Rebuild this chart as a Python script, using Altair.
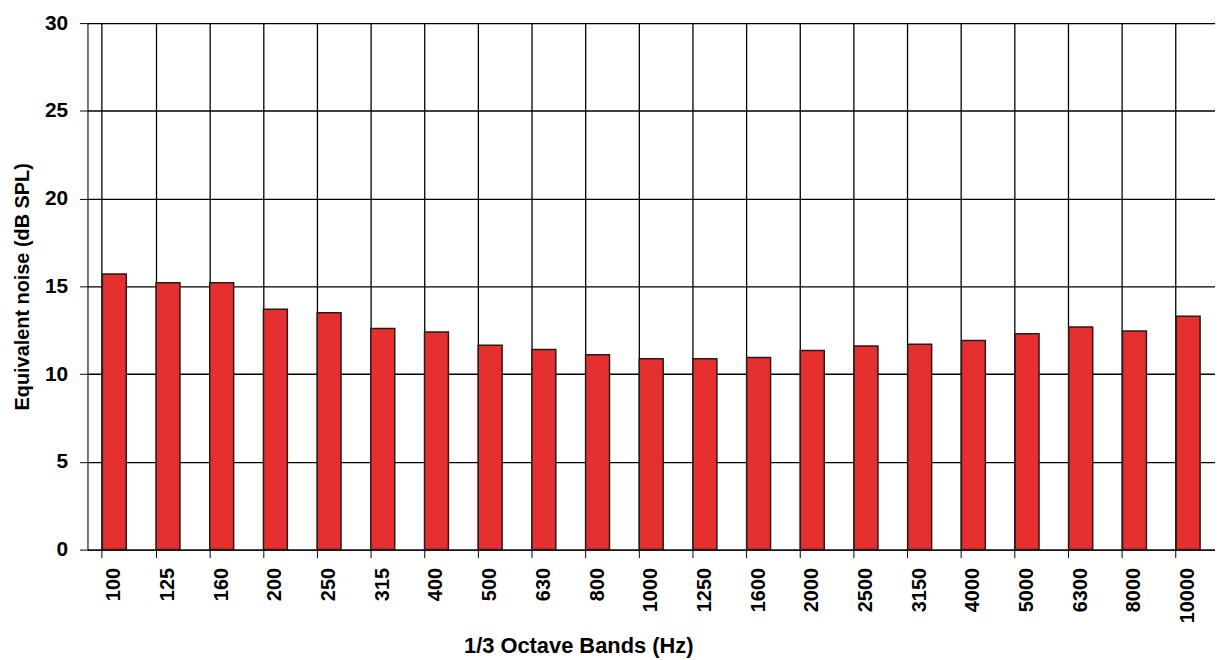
import altair as alt
import pandas as pd

bands = ["100", "125", "160", "200", "250", "315", "400", "500", "630", "800",
         "1000", "1250", "1600", "2000", "2500", "3150", "4000", "5000", "6300",
         "8000", "10000"]
noise = [15.7, 15.2, 15.2, 13.7, 13.5, 12.6, 12.4, 11.65, 11.4, 11.1,
         10.87, 10.87, 10.95, 11.35, 11.6, 11.7, 11.92, 12.3, 12.68, 12.45, 13.3]

df = pd.DataFrame({"band": bands, "noise": noise})

FONT = "Liberation Sans"

chart = alt.Chart(df).mark_bar(
    color="#e6302f", stroke="#2a1a1a", strokeWidth=1.5
).encode(
    x=alt.X("band:N", sort=bands,
            scale=alt.Scale(paddingInner=0.555, paddingOuter=0.2775),
            axis=alt.Axis(title="1/3 Octave Bands (Hz)", labelAngle=270,
                          bandPosition=0, grid=True, gridColor="#000000",
                          gridOpacity=1, gridWidth=1.3, tickSize=8,
                          tickColor="#000000", domainColor="#000000",
                          labelFont=FONT, labelFontSize=20, labelFontWeight="bold",
                          labelColor="#000000", labelPadding=10,
                          titleFont=FONT, titleFontSize=22, titleFontWeight="bold",
                          titleColor="#000000", titleX=494, titleY=104,
                          titleAlign="center", titleBaseline="alphabetic")),
    y=alt.Y("noise:Q", scale=alt.Scale(domain=[0, 30], nice=False),
            axis=alt.Axis(title="Equivalent noise (dB SPL)", values=[0, 5, 10, 15, 20, 25, 30],
                          grid=True, gridColor="#000000", gridOpacity=1, gridWidth=1.3,
                          tickSize=8, tickColor="#000000", domainColor="#000000",
                          labelFont=FONT, labelFontSize=21, labelFontWeight="bold",
                          labelColor="#000000", labelPadding=12,
                          titleFont=FONT, titleFontSize=20, titleFontWeight="bold",
                          titleColor="#000000", titlePadding=12)),
).properties(
    width=1135, height=530,
    autosize=alt.AutoSizeParams(type="none"),
    padding={"left": 80, "top": 13, "right": 0, "bottom": 120},
).configure_view(stroke="#000000", strokeWidth=1.3).configure(background="#ffffff")

chart.save("out.html", embed_options={"renderer": "svg", "actions": False})
